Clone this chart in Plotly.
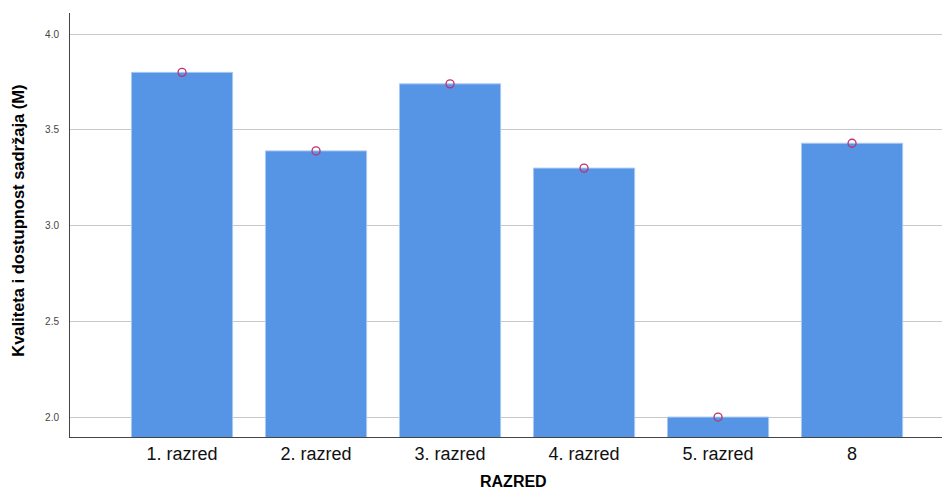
import plotly.graph_objects as go

# Means per grade
razredi = ['1. razred', '2. razred', '3. razred', '4. razred', '5. razred', '8']
means = [3.80, 3.39, 3.74, 3.30, 2.00, 3.43]
y_ticks = [2.0, 2.5, 3.0, 3.5, 4.0]

fig = go.Figure()
fig.add_trace(go.Bar(
    x=razredi, y=means, base=0, width=0.755,
    marker=dict(color='#5694e5', line=dict(color='#a9c8f2', width=1)),
    hoverinfo='x+y'))
fig.add_trace(go.Scatter(
    x=razredi, y=means, mode='markers',
    marker=dict(symbol='circle-open', size=8, color='#c0306a',
                line=dict(width=1.3))))

# page body has an 8px margin, so size/margins are trimmed by 8
fig.update_layout(
    width=942, height=483, showlegend=False,
    plot_bgcolor='white', paper_bgcolor='white',
    margin=dict(l=62, r=2, t=5, b=54),
    font=dict(family='Liberation Sans, Arial, sans-serif', color='#000'),
)
fig.update_xaxes(
    range=[-0.836, 5.716], showline=True, linecolor='#444', linewidth=1,
    ticks='', tickfont=dict(size=18, color='#111'), automargin=False,
)
fig.update_yaxes(
    range=[1.896, 4.11], tickvals=y_ticks,
    ticktext=[f'{v:.1f}' for v in y_ticks],
    showline=True, linecolor='#444', linewidth=1,
    showgrid=True, gridcolor='#c8c8c8', gridwidth=1, zeroline=False,
    ticks='', tickfont=dict(size=10, color='#444'), ticklabelstandoff=8,
    automargin=False,
)

# axis titles
fig.add_annotation(text='<b>RAZRED</b>', xref='paper', yref='paper',
                   x=0.505, y=0, yshift=-44, yanchor='middle',
                   showarrow=False, font=dict(size=16))
fig.add_annotation(text='<b>Kvaliteta i dostupnost sadržaja (M)</b>',
                   xref='paper', yref='paper', x=0, xshift=-52, y=0.51,
                   xanchor='center', yanchor='middle',
                   textangle=-90, showarrow=False, font=dict(size=16.5))

fig.write_html("out.html")
